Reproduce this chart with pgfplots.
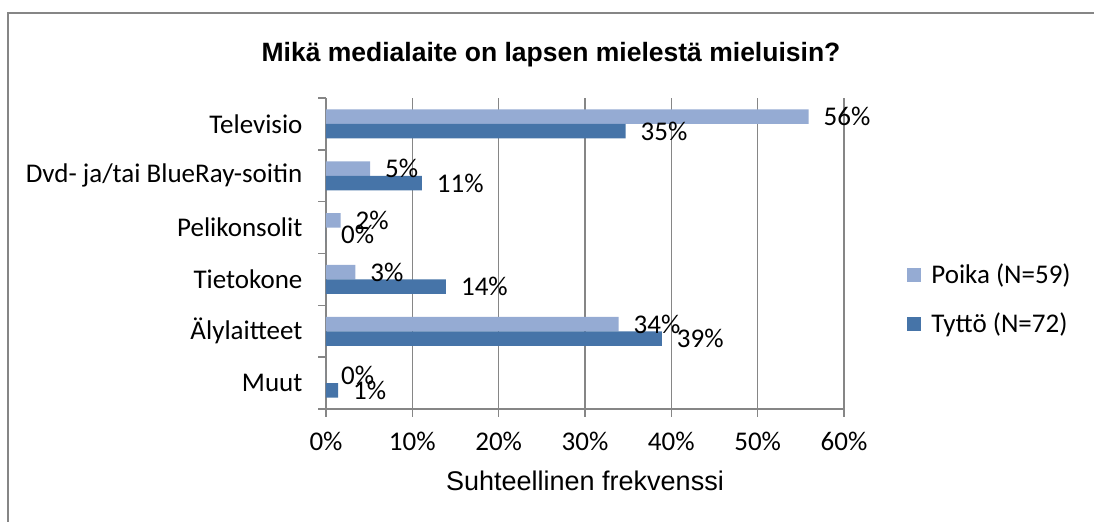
\documentclass[border=0pt]{standalone}
\usepackage{pgfplots}
\pgfplotsset{compat=1.18}
\usepackage{fontspec}
\setmainfont{Carlito}
\newfontfamily\arial{Liberation Sans}
\definecolor{poika}{RGB}{149,171,211}
\definecolor{tytto}{RGB}{70,116,168}
\definecolor{axgray}{RGB}{134,134,134}
\begin{document}
\begin{tikzpicture}
\useasboundingbox (0,0) rectangle (547pt,260.5pt);
\draw[axgray, line width=0.75pt] (4pt,-5pt) -- (4pt,254pt) -- (560pt,254pt);
\node[font=\arial\bfseries\fontsize{13.25}{15}\selectfont] at (275.5pt,233pt) {Mikä medialaite on lapsen mielestä mieluisin?};
\begin{axis}[
 at={(163pt,56pt)}, anchor=south west,
 scale only axis, width=259pt, height=155.5pt,
 xbar, bar width=7.25pt,
 xmin=0, xmax=60, ymin=-0.5, ymax=5.5, y dir=reverse,
 axis x line*=bottom, axis y line*=left,
 axis line style={axgray, line width=0.75pt},
 xtick={0,10,...,60}, xticklabels={0\%,10\%,20\%,30\%,40\%,50\%,60\%},
 ytick={-0.5,0.5,...,5.5}, y tick label as interval,
 yticklabels={Televisio, Dvd- ja/tai BlueRay-soitin, Pelikonsolit, Tietokone, Älylaitteet, Muut},
 tick align=outside, major tick length=3.75pt,
 tick style={axgray, line width=0.75pt},
 xmajorgrids, grid style={axgray, line width=0.75pt},
 ticklabel style={font=\fontsize{13.5}{15}\selectfont},
 xticklabel style={yshift=-4.5pt},
 yticklabel style={xshift=-4.5pt},
 xlabel={Suhteellinen frekvenssi}, xlabel style={font=\arial\fontsize{13.5}{15}\selectfont, yshift=-3pt},
 nodes near coords={\pgfmathprintnumber[fixed,precision=0,assume math mode=true]{\pgfplotspointmeta}\%},
 nodes near coords style={font=\fontsize{13.5}{15}\selectfont, anchor=west, xshift=4pt, text=black},
 point meta=x,
 legend style={at={(1.11,0.352)}, anchor=west, draw=none, fill=none, font=\fontsize{13.5}{15}\selectfont, row sep=9pt, /tikz/every odd column/.append style={column sep=3pt}},
 legend cell align=left,
 legend image code/.code={\fill[#1] (0pt,-3.5pt) rectangle (7pt,3.5pt);},
]
\addplot[fill=poika, draw=none, bar shift=3.625pt] coordinates {(55.9,0) (5.1,1) (1.7,2) (3.4,3) (33.9,4) (0,5)};
\addplot[fill=tytto, draw=none, bar shift=-3.625pt] coordinates {(34.7,0) (11.1,1) (0,2) (13.9,3) (38.9,4) (1.4,5)};
\legend{Poika (N=59), Tyttö (N=72)}
\end{axis}
\end{tikzpicture}
\end{document}
